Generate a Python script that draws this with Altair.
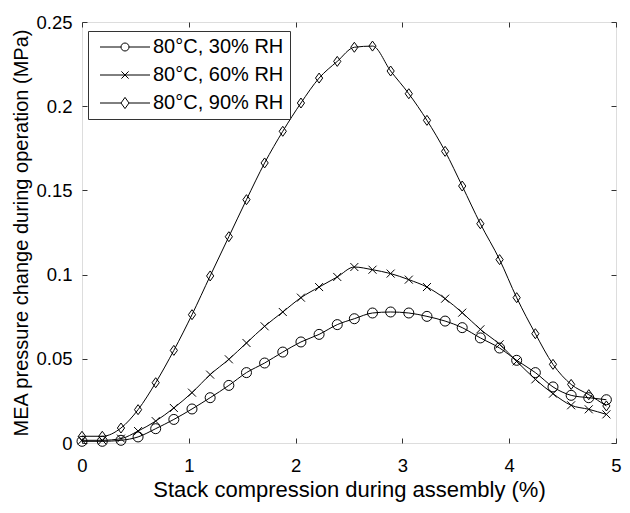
import altair as alt
import pandas as pd

x_vals = [0.0, 0.19, 0.365, 0.525, 0.69, 0.86, 1.03, 1.20, 1.375, 1.54,
          1.71, 1.88, 2.05, 2.22, 2.39, 2.55, 2.72, 2.89, 3.06, 3.23,
          3.40, 3.56, 3.73, 3.91, 4.07, 4.245, 4.41, 4.58, 4.745, 4.91]

y_30 = [0.001, 0.001, 0.0016, 0.0036, 0.0085, 0.014, 0.0202, 0.0269, 0.0342, 0.0418,
        0.0475, 0.054, 0.060, 0.0645, 0.0703, 0.0738, 0.0772, 0.0778, 0.0772, 0.0752,
        0.0724, 0.0685, 0.0624, 0.0564, 0.0491, 0.0418, 0.0333, 0.0283, 0.0269, 0.0257]

y_60 = [0.0016, 0.0016, 0.0026, 0.0071, 0.013, 0.0208, 0.0299, 0.0406, 0.0497, 0.0594,
        0.0693, 0.0778, 0.0863, 0.0926, 0.0986, 0.1045, 0.1029, 0.1006, 0.097, 0.0926,
        0.0857, 0.0774, 0.0675, 0.0586, 0.0485, 0.0378, 0.0293, 0.0224, 0.020, 0.017]

y_90 = [0.004, 0.004, 0.0089, 0.0198, 0.0358, 0.055, 0.0762, 0.0992, 0.1225, 0.1445,
        0.1663, 0.1851, 0.2019, 0.2167, 0.2266, 0.2350, 0.2357, 0.2209, 0.2074, 0.1916,
        0.1732, 0.1526, 0.1302, 0.1089, 0.0863, 0.0649, 0.0467, 0.0348, 0.0287, 0.022]

series = ["80°C, 30% RH", "80°C, 60% RH", "80°C, 90% RH"]
x_ticks = [0, 1, 2, 3, 4, 5]
y_ticks = [0, 0.05, 0.1, 0.15, 0.2, 0.25]

rows = []
for name, ys in zip(series, [y_30, y_60, y_90]):
    for xv, yv in zip(x_vals, ys):
        rows.append({"series": name, "x": xv, "y": yv})
df = pd.DataFrame(rows)

FONT = "Liberation Sans"
AX = "#333333"

marker_paths = [
    "circle",
    "M-0.8,-0.8L0.8,0.8M-0.8,0.8L0.8,-0.8",
    "M0,-1L0.72,0L0,1L-0.72,0Z",
]
legend_paths = [
    "M-6.25,0H-1M1,0H6.25M-1,0A1,1,0,1,0,1,0A1,1,0,1,0,-1,0",
    "M-6.25,0H6.25M-0.9,-0.9L0.9,0.9M-0.9,0.9L0.9,-0.9",
    "M-6.25,0H-1M1,0H6.25M0,-1.4L1,0L0,1.4L-1,0Z",
]

xscale = alt.Scale(domain=[0, 5], nice=False, zero=False)
yscale = alt.Scale(domain=[0, 0.25], nice=False, zero=False)

label_x_axis = alt.Axis(values=x_ticks, ticks=False, domain=False, grid=False,
                        labelFontSize=18.5, labelFont=FONT, labelColor="black",
                        labelPadding=13, labelFlush=False,
                        title="Stack compression during assembly (%)",
                        titleFontSize=22, titleFont=FONT, titleFontWeight="normal",
                        titleColor="black", titlePadding=5, format="d")
label_y_axis = alt.Axis(values=y_ticks, ticks=False, domain=False, grid=False,
                        labelFontSize=18.5, labelFont=FONT, labelColor="black",
                        labelPadding=10, labelFlush=False,
                        title="MEA pressure change during operation (MPa)",
                        titleFontSize=20, titleFont=FONT, titleFontWeight="normal",
                        titleColor="black", titlePadding=4,
                        labelExpr="datum.value == 0 ? '0' : format(datum.value, '.2~f')")


def tick_axis(vals, orient):
    return alt.Axis(values=vals, orient=orient, offset=-5, ticks=True, tickSize=5,
                    tickColor=AX, tickWidth=1, labels=False, domain=False, grid=False,
                    title=None)


lines = alt.Chart(df).mark_line(color="black", strokeWidth=1, interpolate="monotone").encode(
    x=alt.X("x:Q", scale=xscale, axis=label_x_axis),
    y=alt.Y("y:Q", scale=yscale, axis=label_y_axis),
    detail="series:N",
)

points = alt.Chart(df).mark_point(filled=False, color="black", strokeWidth=1, size=100, opacity=1).encode(
    x=alt.X("x:Q", scale=xscale, axis=tick_axis(x_ticks, "bottom")),
    y=alt.Y("y:Q", scale=yscale, axis=tick_axis(y_ticks, "left")),
    shape=alt.Shape("series:N", scale=alt.Scale(domain=series, range=marker_paths), legend=None),
)

legend_layer = alt.Chart(df).mark_point(filled=False, color="black", strokeWidth=1, opacity=0).encode(
    x=alt.X("x:Q", scale=xscale, axis=tick_axis(x_ticks, "top")),
    y=alt.Y("y:Q", scale=yscale, axis=tick_axis(y_ticks, "right")),
    shape=alt.Shape("series:N", scale=alt.Scale(domain=series, range=legend_paths),
                    legend=alt.Legend(title=None, orient="none", legendX=6, legendY=9,
                                      labelFontSize=20, labelFont=FONT, labelColor="black",
                                      symbolSize=64, symbolOpacity=1, symbolStrokeColor="black",
                                      symbolFillColor="transparent", symbolStrokeWidth=1,
                                      symbolOffset=21, labelOffset=18, rowPadding=8,
                                      padding=6, strokeColor=AX, fillColor="white")),
)

chart = alt.layer(lines, points, legend_layer).resolve_scale(
    shape="independent"
).resolve_axis(x="independent", y="independent").properties(
    width=534, height=421,
    autosize=alt.AutoSizeParams(type="none"),
    padding={"left": 74, "top": 14, "right": 6, "bottom": 62},
).configure_view(stroke=AX, strokeWidth=1).configure(background="white")

chart.save("out.html", embed_options={"renderer": "svg", "actions": False})
